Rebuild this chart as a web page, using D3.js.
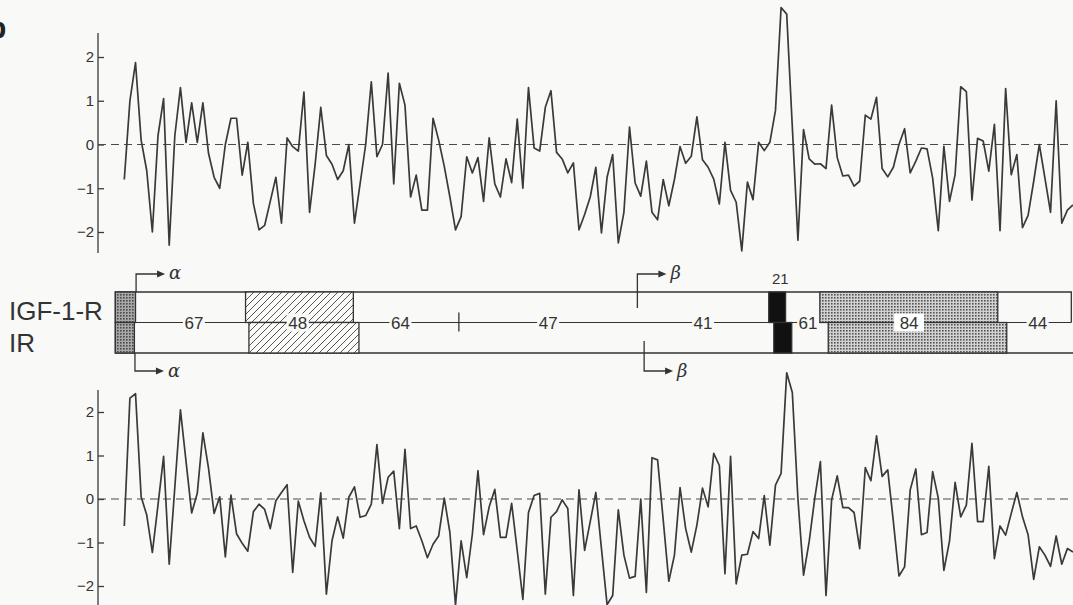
<!DOCTYPE html>
<html>
<head>
<meta charset="utf-8">
<script src="https://cdn.jsdelivr.net/npm/d3@7"></script>
<style>
  body { margin: 0; background: #f9f9f8; }
  svg { display: block; }
</style>
</head>
<body>
<main></main>
<script>
// hydropathy values
var igfValues = [
  -0.8, 1.0, 1.87, 0.1, -0.6, -2.0, 0.2, 1.05, -2.3, 0.2,
  1.3, 0.05, 0.95, 0.05, 0.95, -0.2, -0.75, -1.0, 0.0, 0.6,
  0.6, -0.7, 0.05, -1.35, -1.95, -1.85, -1.3, -0.75, -1.8, 0.15,
  -0.05, -0.15, 1.2, -1.55, -0.45, 0.85, -0.25, -0.45, -0.8, -0.6,
  0.0, -1.8, -0.9, 0.0, 1.43, -0.28, 0.0, 1.63, -0.9, 1.4,
  0.9, -1.2, -0.7, -1.5, -1.5, 0.6, 0.1, -0.5, -1.2, -1.95,
  -1.65, -0.28, -0.65, -0.3, -1.3, 0.15, -0.9, -1.2, -0.33, -0.87,
  0.58, -1.0, 1.3, -0.08, -0.15, 0.85, 1.23, -0.18, -0.33, -0.65,
  -0.42, -1.95, -1.6, -1.2, -0.52, -2.02, -0.75, -0.23, -2.25, -1.55,
  0.4, -0.88, -1.18, -0.38, -1.55, -1.72, -0.8, -1.4, -0.8, -0.05,
  -0.43, -0.27, 0.63, -0.35, -0.52, -0.79, -1.36, 0.05, -1.05, -1.32,
  -2.43, -0.86, -1.26, 0.05, -0.14, 0.05, 0.78, 3.13, 2.98, 0.4,
  -2.19, 0.34, -0.33, -0.45, -0.44, -0.55, 0.9, -0.3, -0.72, -0.7,
  -0.95, -0.84, 0.67, 0.58, 1.08, -0.55, -0.74, -0.52, 0.0, 0.36,
  -0.65, -0.38, -0.08, -0.1, -0.77, -1.97, -0.04, -1.3, -0.69, 1.32,
  1.21, -1.27, 0.14, 0.08, -0.61, 0.46, -1.97, 1.28, -0.69, -0.23,
  -1.9, -1.62, -0.84, 0.0, -0.77, -1.55, 1.0, -1.8, -1.5, -1.38
]

var irValues = [
  -0.62, 2.32, 2.42, 0.05, -0.37, -1.23, -0.14, 0.98, -1.5, 0.27,
  2.05, 0.86, -0.32, 0.13, 1.52, 0.71, -0.33, 0.05, -1.33, 0.09,
  -0.8, -1.02, -1.2, -0.29, -0.12, -0.24, -0.68, -0.04, 0.15, 0.33,
  -1.69, -0.05, -0.5, -0.88, -1.09, 0.14, -2.19, -0.96, -0.41, -0.9,
  0.04, 0.28, -0.42, -0.38, -0.12, 1.25, -0.1, 0.5, 0.64, -0.68,
  1.14, -0.68, -0.62, -0.96, -1.35, -1.04, -0.85, 0.02, -0.77, -2.44,
  -0.96, -1.81, -0.81, 0.65, -0.82, -0.18, 0.22, -0.88, -0.88, -0.1,
  -1.19, -2.31, -0.31, 0.08, 0.13, -2.19, -0.42, -0.29, -0.02, -0.22,
  -2.22, 0.21, -1.18, -0.52, 0.15, -1.14, -2.43, -2.22, -0.25, -1.29,
  -1.82, -1.78, 0.0, -2.15, 0.95, 0.9, -0.48, -1.89, -1.29, 0.26,
  -0.68, -1.22, -0.6, 0.25, -0.18, 1.05, 0.77, -1.72, 0.98, -1.95,
  -1.29, -1.27, -0.75, -0.91, 0.08, -1.06, 0.32, 0.59, 2.9, 2.45,
  0.0, -1.75, -0.98, 0.02, 0.86, -2.22, -0.02, 0.53, -0.2, -0.2,
  -0.31, -1.14, 0.72, 0.42, 1.45, 0.52, 0.67, -0.52, -1.77, -1.56,
  0.21, 0.69, -0.82, -0.77, 0.63, 0.02, -1.64, -0.97, 0.38, -0.41,
  -0.14, 1.28, -0.52, -0.52, 0.75, -1.37, -0.62, -0.83, -0.33, 0.15,
  -0.41, -0.82, -1.85, -1.1, -1.29, -1.55, -0.85, -1.5, -1.14, -1.22
]

var yTicks = [-2, -1, 0, 1, 2]

// domain map, in window units along the same x axis
var rowNames = ["IGF-1-R", "IR"]
var signalBox = [{row: 0, start: -0.6, end: 3.0}, {row: 1, start: -0.6, end: 2.8}]
var cysBox = [{row: 0, start: 22.6, end: 41.8}, {row: 1, start: 23.2, end: 42.8}]
var tmBox = [{row: 0, start: 115.8, end: 118.8}, {row: 1, start: 116.7, end: 119.9}]
var kinaseBox = [{row: 0, start: 124.9, end: 156.6}, {row: 1, start: 126.4, end: 158.2}]
var identity = [
  {label: "67", at: 13.4}, {label: "48", at: 31.9}, {label: "64", at: 50.2},
  {label: "47", at: 76.5}, {label: "41", at: 104.1}, {label: "61", at: 122.8},
  {label: "84", at: 140.8}, {label: "44", at: 163.7}
]
var boxEnd = 169.7
var tickMark = 60.6
var cleavage = [
  {row: 0, at: 3.1, label: "α"}, {row: 1, at: 2.9, label: "α"},
  {row: 0, at: 92.4, label: "β"}, {row: 1, at: 93.6, label: "β"}
]
var tmLabel = "21"

var W = 1073, H = 605
var font = "'Liberation Sans', Helvetica, Arial, sans-serif"
var ink = '#3a3a3a'

var svg = d3.select('main').append('svg')
    .attr('width', W)
    .attr('height', H)
    .style('background', '#f9f9f8')

var x = d3.scaleLinear()
    .domain([1, 170])
    .range([124.3, 1073])

var defs = svg.append('defs')

var hatch = defs.append('pattern')
    .attr('id', 'hatch')
    .attr('patternUnits', 'userSpaceOnUse')
    .attr('width', 7).attr('height', 7)
hatch.append('rect').attr('width', 7).attr('height', 7).attr('fill', '#fbfbfa')
hatch.append('path')
    .attr('d', 'M-1,1 l2,-2 M0,7 l7,-7 M6,8 l2,-2')
    .attr('stroke', '#444').attr('stroke-width', 0.9)

var dots = defs.append('pattern')
    .attr('id', 'dots')
    .attr('patternUnits', 'userSpaceOnUse')
    .attr('width', 3).attr('height', 3)
dots.append('rect').attr('width', 3).attr('height', 3).attr('fill', '#d2d2d2')
dots.append('rect').attr('width', 1.6).attr('height', 1.6).attr('fill', '#555')

var darkDots = defs.append('pattern')
    .attr('id', 'darkdots')
    .attr('patternUnits', 'userSpaceOnUse')
    .attr('width', 3).attr('height', 3)
darkDots.append('rect').attr('width', 3).attr('height', 3).attr('fill', '#a8a8a8')
darkDots.append('rect').attr('width', 1.6).attr('height', 1.6).attr('fill', '#4a4a4a')

// panel letter, mostly cut off at the left edge in the original
svg.append('text')
    .attr('x', -12).attr('y', 38)
    .style('font-family', font)
    .style('font-weight', 'bold')
    .style('font-size', '30px')
    .attr('fill', '#222')
    .text('b')

function drawPlot(values, yTop, yBottom, axisTop, axisBottom) {
  var y = d3.scaleLinear()
      .domain([-2, 2])
      .range([yBottom, yTop])

  var g = svg.append('g')

  g.append('line')
      .attr('x1', 98).attr('x2', 98)
      .attr('y1', axisTop).attr('y2', axisBottom)
      .attr('stroke', ink).attr('stroke-width', 1.3)

  var axis = d3.axisLeft(y)
      .tickValues(yTicks)
      .tickSizeInner(-6)
      .tickSizeOuter(0)
      .tickPadding(4)
      .tickFormat(d3.format('d'))

  g.append('g')
      .attr('transform', 'translate(98,0)')
      .call(axis)
      .call(function(a) { a.select('.domain').remove() })
      .call(function(a) {
        a.selectAll('line').attr('stroke', ink).attr('stroke-width', 1.3)
        a.selectAll('text')
            .attr('fill', '#333')
            .style('font-family', font)
            .style('font-size', '15px')
      })

  g.append('line')
      .attr('x1', 98).attr('x2', W)
      .attr('y1', y(0)).attr('y2', y(0))
      .attr('stroke', '#4a4a4a')
      .attr('stroke-width', 1.2)
      .attr('stroke-dasharray', '8,5')

  var line = d3.line()
      .x(function(d, i) { return x(i + 1) })
      .y(function(d) { return y(d) })

  g.append('path')
      .datum(values)
      .attr('d', line)
      .attr('fill', 'none')
      .attr('stroke', ink)
      .attr('stroke-width', 1.7)
      .attr('stroke-linejoin', 'round')
}

drawPlot(igfValues, 57, 232, 33, 253)
drawPlot(irValues, 412, 586, 390, 605)

// ---- domain map between the plots ----
var rowTop = [292, 322.5], rowH = 30.5
var midY = 322.5, boxTop = 292, boxBottom = 353
var map = svg.append('g')

map.append('text')
    .attr('x', 9).attr('y', 320)
    .style('font-family', font)
    .style('font-size', '26px')
    .attr('fill', '#333')
    .text(rowNames[0])
map.append('text')
    .attr('x', 9).attr('y', 352)
    .style('font-family', font)
    .style('font-size', '26px')
    .attr('fill', '#333')
    .text(rowNames[1])

// outline
map.append('path')
    .attr('d', 'M' + x(boxEnd) + ',' + midY + 'V' + boxTop + 'H' + x(-0.6) + 'V' + boxBottom + 'H' + W)
    .attr('fill', 'none')
    .attr('stroke', '#333')
    .attr('stroke-width', 1.3)
map.append('line')
    .attr('x1', x(3.0)).attr('x2', x(boxEnd))
    .attr('y1', midY).attr('y2', midY)
    .attr('stroke', '#333')
    .attr('stroke-width', 1.2)

function boxes(data, fill) {
  map.append('g').selectAll('rect').data(data)
    .enter().append('rect')
      .attr('x', function(d) { return x(d.start) })
      .attr('width', function(d) { return x(d.end) - x(d.start) })
      .attr('y', function(d) { return rowTop[d.row] })
      .attr('height', rowH)
      .attr('fill', fill)
      .attr('stroke', '#333')
      .attr('stroke-width', 1.3)
}

boxes(signalBox, 'url(#darkdots)')
boxes(cysBox, 'url(#hatch)')
boxes(kinaseBox, 'url(#dots)')
boxes(tmBox, '#111')

map.append('line')
    .attr('x1', x(tickMark)).attr('x2', x(tickMark))
    .attr('y1', midY - 10).attr('y2', midY + 9)
    .attr('stroke', '#333')
    .attr('stroke-width', 1.3)

var labels = map.append('g').selectAll('g').data(identity)
    .enter().append('g')
    .attr('transform', function(d) { return 'translate(' + x(d.at) + ',' + midY + ')' })
labels.append('rect')
    .attr('x', function(d) { return d.label == '84' ? -15 : -11 })
    .attr('width', function(d) { return d.label == '84' ? 30 : 22 })
    .attr('y', -9).attr('height', 18)
    .attr('fill', function(d) { return d.label == '84' ? '#ffffff' : '#f9f9f8' })
labels.append('text')
    .attr('text-anchor', 'middle')
    .attr('dy', '0.36em')
    .style('font-family', font)
    .style('font-size', '17px')
    .attr('fill', '#333')
    .text(function(d) { return d.label })

map.append('text')
    .attr('x', x((tmBox[0].start + tmBox[1].end) / 2))
    .attr('y', 284)
    .attr('text-anchor', 'middle')
    .style('font-family', font)
    .style('font-size', '15px')
    .attr('fill', '#333')
    .text(tmLabel)

// cleavage arrows
var arrows = map.append('g').selectAll('g').data(cleavage)
    .enter().append('g')
arrows.append('path')
    .attr('d', function(d) {
      var x0 = x(d.at)
      if (d.row == 0) {
        var y0 = d.label == 'β' ? 308 : boxTop
        return 'M' + x0 + ',' + y0 + 'V274H' + (x0 + 22)
      }
      var y1 = d.label == 'β' ? 341 : boxBottom
      return 'M' + x0 + ',' + y1 + 'V371H' + (x0 + 22)
    })
    .attr('fill', 'none')
    .attr('stroke', '#333')
    .attr('stroke-width', 1.3)
arrows.append('path')
    .attr('d', function(d) {
      var xe = x(d.at) + 29, ye = d.row == 0 ? 274 : 371
      return 'M' + xe + ',' + ye + 'l-8,-3.5v7z'
    })
    .attr('fill', '#333')
arrows.append('text')
    .attr('x', function(d) { return x(d.at) + 33 })
    .attr('y', function(d) { return d.row == 0 ? 279 : 377 })
    .style('font-family', "'DejaVu Serif', serif")
    .style('font-style', 'italic')
    .style('font-size', '18px')
    .attr('fill', '#333')
    .text(function(d) { return d.label })
</script>
</body>
</html>
